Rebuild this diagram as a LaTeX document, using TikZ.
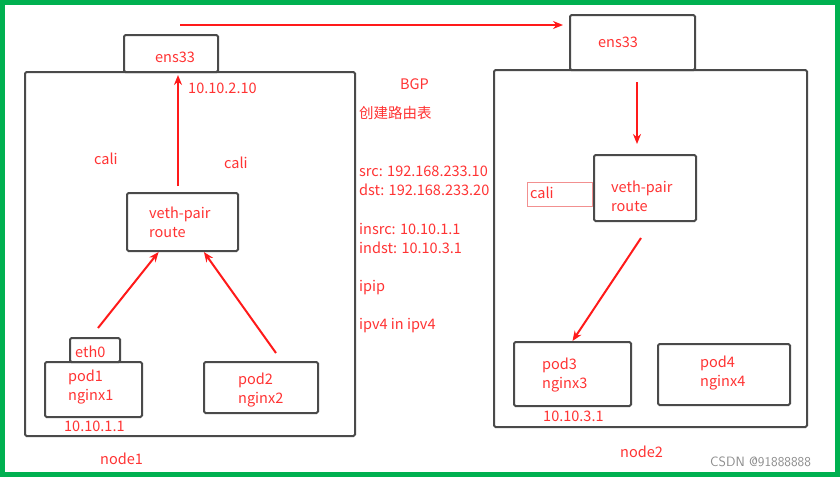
\documentclass[tikz,border=0pt]{standalone}
\usepackage{fontspec}
\usepackage{tikz}
\usetikzlibrary{arrows.meta, positioning}
\newfontfamily\cjk{Noto Sans CJK SC}
\definecolor{framegreen}{HTML}{00B050}
\definecolor{labelred}{HTML}{FF3333}
\definecolor{flowred}{HTML}{FF1A1A}
\definecolor{boxgrey}{HTML}{4A4A4A}
\definecolor{calired}{HTML}{F29090}
\definecolor{markgrey}{HTML}{8C8C8C}
\tikzset{
>={Stealth[length=10pt,width=8pt]}, % small solid arrow heads
box/.style={draw=boxgrey, line width=2pt, rounded corners=1.5pt, inner sep=0pt}, % hosts, nics, pods
txt/.style={text=labelred, font=\cjk\fontsize{14.5pt}{19pt}\selectfont, inner sep=0pt, align=left, anchor=west},
flow/.style={draw=flowred, line width=2pt}, % packet path
}

\begin{document}
\begin{tikzpicture}[x=1pt, y=-1pt]
  \useasboundingbox (0,0) rectangle (840,477);
  \fill[framegreen] (0,0) rectangle (840,477);
  \fill[white] (5,5) rectangle (835,472);

  % node1
  \node[box, anchor=north west, minimum width=330pt, minimum height=364pt] (host1) at (24,71) {};
  \node[box, anchor=north west, minimum width=94pt, minimum height=37pt] (ens1) at (123,34) {};
  \node[box, anchor=north west, minimum width=111pt, minimum height=58pt] (veth1) at (126,192) {};
  \node[box, anchor=north west, minimum width=50pt, minimum height=24pt] (eth1) at (69,337) {};
  \node[box, anchor=north west, minimum width=97pt, minimum height=55pt] (pod1) at (44,361) {};
  \node[box, anchor=north west, minimum width=114pt, minimum height=51pt] (pod2) at (203,361) {};

  \node[txt] (ens1txt) at (155,57) {ens33};
  \node[txt] (ip1) at (188,88) {10.10.2.10};
  \node[txt] (caliA) at (94,159) {cali};
  \node[txt] (caliB) at (224,163) {cali};
  \node[txt] (veth1txt) at (149,222) {veth-pair\\route};
  \node[txt] (eth1txt) at (75,352) {eth0};
  \node[txt] (pod1txt) at (68,387) {pod1\\nginx1};
  \node[txt] (pod1ip) at (64,426) {10.10.1.1};
  \node[txt] (pod2txt) at (238,390) {pod2\\nginx2};
  \node[txt] (host1txt) at (100,459) {node1};

  % notes in the middle
  \node[txt] (bgp) at (400,84) {BGP};
  \node[txt] (rtable) at (359,113) {创建路由表};
  \node[txt] (outer) at (359,181) {src: 192.168.233.10\\dst: 192.168.233.20};
  \node[txt] (inner) at (359,238) {insrc: 10.10.1.1\\indst: 10.10.3.1};
  \node[txt] (ipip) at (359,288) {ipip};
  \node[txt] (ipv4) at (359,326) {ipv4 in ipv4};

  % node2
  \node[box, anchor=north west, minimum width=313pt, minimum height=357pt] (host2) at (493,69) {};
  \node[box, anchor=north west, minimum width=125pt, minimum height=55pt] (ens2) at (569,14) {};
  \node[box, anchor=north west, minimum width=102pt, minimum height=66pt] (veth2) at (593,154) {};
  \node[draw=calired, line width=1pt, minimum width=65pt, minimum height=24pt,
        left=0pt of veth2, yshift=-6pt] (cali2) {};
  \node[box, anchor=north west, minimum width=117pt, minimum height=64pt] (pod3) at (513,341) {};
  \node[box, anchor=north west, minimum width=132pt, minimum height=61pt] (pod4) at (657,343) {};

  \node[txt] (ens2txt) at (598,42) {ens33};
  \node[txt] (cali2txt) at (530,193) {cali};
  \node[txt] (veth2txt) at (611,196) {veth-pair\\route};
  \node[txt] (pod3txt) at (542,375) {pod3\\nginx3};
  \node[txt] (pod3ip) at (543,416) {10.10.3.1};
  \node[txt] (pod4txt) at (700,373) {pod4\\nginx4};
  \node[txt] (host2txt) at (620,452) {node2};
  \node[txt, text=markgrey, font=\sffamily\fontsize{13.5pt}{16pt}\selectfont] (mark) at (710,462) {CSDN @91888888};

  % packet path
  \coordinate (tunnel) at (180,25);
  \coordinate (up1) at (178,186);
  \coordinate (from1) at (98,328);
  \coordinate (from2) at (276,353);
  \coordinate (down2) at (637,82);
  \coordinate (to3) at (641,238);

  \path[->]
  (from1) edge[flow] (veth1)
  (from2) edge[flow] (veth1)
  (up1) edge[flow, shorten >=2pt] (up1 |- ens1.south)
  (tunnel) edge[flow, shorten >=6pt] (tunnel -| ens2.west)
  (down2) edge[flow, shorten >=10pt] (down2 |- veth2.north)
  (to3) edge[flow] (pod3.north);
\end{tikzpicture}
\end{document}
